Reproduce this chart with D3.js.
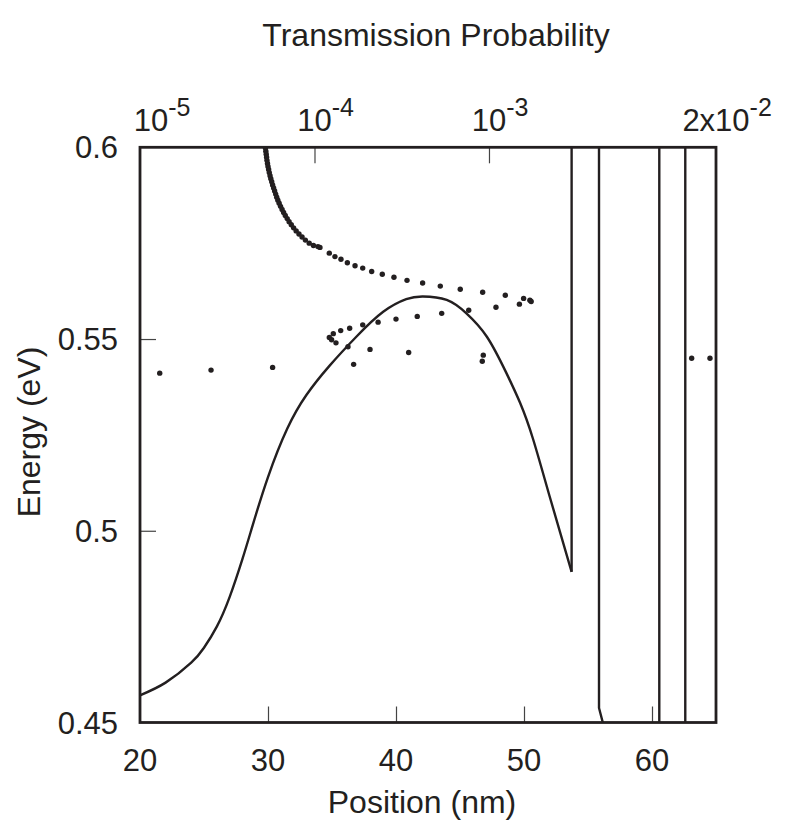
<!DOCTYPE html>
<html>
<head>
<meta charset="utf-8">
<script src="https://cdn.jsdelivr.net/npm/d3@7"></script>
<style>
  html, body { margin: 0; padding: 0; background: #fff; }
  svg { display: block; }
  text { font-family: "Liberation Sans", Arial, Helvetica, sans-serif; fill: #231f20; }
</style>
</head>
<body>
<svg id="chart" width="787" height="824"></svg>
<script>
// Conduction-band profile inside the well (position in nm, energy in eV)
const wellX = [20.0, 22.0, 24.0, 25.0, 26.0, 27.0, 28.0, 28.8, 30.0, 31.5, 33.0, 34.8, 36.9, 39.0, 40.8, 42.1, 43.96, 45.5, 47.1, 48.6, 49.7, 50.7, 52.0, 53.72];
const wellE = [0.4571, 0.4604, 0.4656, 0.4695, 0.4750, 0.4827, 0.4926, 0.5014, 0.5140, 0.5266, 0.5354, 0.5430, 0.5506, 0.5571, 0.5604, 0.5611, 0.5602, 0.5567, 0.5506, 0.5413, 0.5333, 0.5240, 0.5090, 0.4893];

// Barrier / contact section of the profile (runs off the plotted range)
const barX = [53.72, 53.72, 55.86, 55.86, 56.35, 60.57, 60.57, 62.6, 62.6, 65];
const barE = [0.4893, 0.65, 0.65, 0.4538, 0.4475, 0.4475, 0.65, 0.65, 0.44, 0.44];

// Transmission-resonance points (position in nm, energy in eV)
const dotX = [
  29.80, 29.83, 29.86, 29.89, 29.92, 29.96, 30.00, 30.05, 30.10, 30.16, 30.22, 30.29, 30.36, 30.44, 30.52,
  30.60, 30.68, 30.77, 30.87, 30.98, 31.10, 31.22, 31.35, 31.50, 31.65, 31.82, 32.00, 32.20, 32.42, 32.66,
  32.92, 33.22, 33.55, 33.90,
  34.06, 34.79, 35.23, 35.70, 36.20, 36.80, 37.40, 38.10, 38.93, 39.84, 40.86, 42.08, 43.46, 45.02, 46.77,
  48.54, 49.97, 50.46, 50.56,
  49.64, 47.81, 45.68, 43.57, 41.66, 40.00, 38.60, 37.40, 36.38, 35.68, 35.10, 34.79, 34.97, 35.31, 36.25,
  37.97, 40.99, 46.82, 46.74, 36.69, 30.36, 25.55, 21.54, 63.10, 64.53
];
const dotE = [
  0.5998, 0.5990, 0.5982, 0.5974, 0.5966, 0.5958, 0.5950, 0.5942, 0.5934, 0.5926, 0.5918, 0.5910, 0.5902, 0.5894, 0.5886,
  0.5878, 0.5870, 0.5862, 0.5854, 0.5846, 0.5838, 0.5830, 0.5822, 0.5814, 0.5806, 0.5798, 0.5790, 0.5782, 0.5774, 0.5766,
  0.5758, 0.5750, 0.5744, 0.5741,
  0.5739, 0.5724, 0.5715, 0.5708, 0.5699, 0.5691, 0.5685, 0.5676, 0.5669, 0.5661, 0.5653, 0.5646, 0.5638, 0.5630, 0.5622,
  0.5614, 0.5606, 0.5601, 0.5598,
  0.5591, 0.5583, 0.5575, 0.5567, 0.5559, 0.5552, 0.5544, 0.5537, 0.5528, 0.5522, 0.5514, 0.5504, 0.5498, 0.5490, 0.5480,
  0.5473, 0.5465, 0.5458, 0.5442, 0.5434, 0.5426, 0.5419, 0.5411, 0.5450, 0.5450
];

// Axis ticks
const xTicks = [20, 30, 40, 50, 60];
const yTicks = [0.45, 0.5, 0.55, 0.6];
const topTickValues = [1e-5, 1e-4, 1e-3, 2e-2];
const topTickMantissa = ["", "", "", "2x"];
const topTickExponent = ["-5", "-4", "-3", "-2"];

const svg = d3.select("#chart");
const plotLeft = 140, plotRight = 716, plotTop = 147.3, plotBottom = 722.5;
const ink = "#231f20";

const x = d3.scaleLinear().domain([20, 65]).range([plotLeft, plotRight]);
const y = d3.scaleLinear().domain([0.45, 0.6]).range([plotBottom, plotTop]);
const xTop = d3.scaleLog().domain([1e-5, 2e-2]).range([plotLeft, plotRight]);

svg.append("rect").attr("width", 787).attr("height", 824).attr("fill", "#fff");

svg.append("defs").append("clipPath").attr("id", "plot")
  .append("rect").attr("x", plotLeft).attr("y", plotTop)
  .attr("width", plotRight - plotLeft).attr("height", plotBottom - plotTop);

// Inward tick marks
const tickLen = 16;
const tickStyle = g => g.call(s => s.select(".domain").remove())
  .call(s => s.selectAll(".tick line").attr("stroke", "#444").attr("stroke-width", 1.2))
  .call(s => s.selectAll(".tick text").remove());

svg.append("g").attr("transform", `translate(0,${plotBottom})`)
  .call(d3.axisBottom(x).tickValues(xTicks.filter(v => v > 20)).tickSize(-tickLen))
  .call(tickStyle);
svg.append("g").attr("transform", `translate(${plotLeft},0)`)
  .call(d3.axisLeft(y).tickValues([0.5, 0.55]).tickSize(-tickLen))
  .call(tickStyle);
svg.append("g").attr("transform", `translate(0,${plotTop})`)
  .call(d3.axisTop(xTop).tickValues([1e-4, 1e-3]).tickSize(-tickLen))
  .call(tickStyle);

// Tick labels
svg.append("g").selectAll("text").data(xTicks).join("text")
  .attr("x", d => x(d)).attr("y", 770.5)
  .attr("text-anchor", "middle").attr("font-size", 31)
  .text(d => d);

svg.append("g").selectAll("text").data(yTicks).join("text")
  .attr("x", 118).attr("y", d => y(d) + 11)
  .attr("text-anchor", "end").attr("font-size", 31)
  .text(d => d3.format("")(d));

// Top (transmission) labels: mantissa + 10 centred on the tick, exponent raised
const topG = svg.append("g");
topTickValues.forEach((v, i) => {
  const t = topG.append("text").attr("font-size", 31).attr("y", 131);
  t.append("tspan").text(topTickMantissa[i] + "10");
  t.append("tspan").attr("font-size", 25).attr("dy", -15).text(topTickExponent[i]);
  const baseW = t.select("tspan").node().getComputedTextLength();
  const shift = i === 0 ? 11 : 0;
  t.attr("x", xTop(v) - baseW / 2 + shift);
});

// Axis titles
svg.append("text").attr("x", 436).attr("y", 46)
  .attr("text-anchor", "middle").attr("font-size", 32)
  .text("Transmission Probability");
svg.append("text").attr("x", 422).attr("y", 813)
  .attr("text-anchor", "middle").attr("font-size", 32)
  .text("Position (nm)");
svg.append("text").attr("transform", "translate(40,432) rotate(-90)")
  .attr("text-anchor", "middle").attr("font-size", 32)
  .text("Energy (eV)");

const plot = svg.append("g").attr("clip-path", "url(#plot)");

// Potential profile
const wellLine = d3.line().x((d, i) => x(wellX[i])).y(d => y(d)).curve(d3.curveNatural);
plot.append("path").attr("d", wellLine(wellE))
  .attr("fill", "none").attr("stroke", ink).attr("stroke-width", 2.4).attr("stroke-linejoin", "round");

const barLine = d3.line().x((d, i) => x(barX[i])).y(d => y(d));
plot.append("path").attr("d", barLine(barE))
  .attr("fill", "none").attr("stroke", ink).attr("stroke-width", 2.4).attr("stroke-linejoin", "miter");

// Resonance points
plot.append("g").selectAll("circle").data(dotE).join("circle")
  .attr("cx", (d, i) => x(dotX[i])).attr("cy", d => y(d)).attr("r", 2.7)
  .attr("fill", ink);

// Plot frame
svg.append("rect").attr("x", plotLeft).attr("y", plotTop)
  .attr("width", plotRight - plotLeft).attr("height", plotBottom - plotTop)
  .attr("fill", "none").attr("stroke", ink).attr("stroke-width", 2.8);
</script>
</body>
</html>
